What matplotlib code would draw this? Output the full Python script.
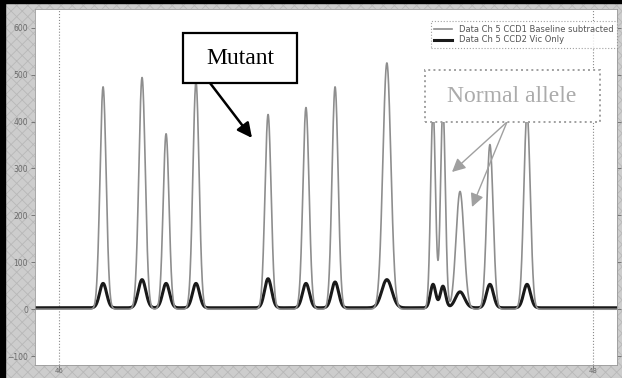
import numpy as np
import matplotlib.pyplot as plt
from matplotlib.patches import Rectangle

# peak table (x in scan units, heights in counts)
peak_pos = [46.165, 46.311, 46.401, 46.513, 46.783, 46.925, 47.034,
            47.228, 47.401, 47.438, 47.502, 47.614, 47.753]
ccd1_height = [474, 494, 374, 485, 415, 430, 474, 525, 428, 432, 251, 351, 419]
ccd1_sigma = [0.0115, 0.012, 0.011, 0.0115, 0.0115, 0.0115, 0.0115,
              0.015, 0.009, 0.009, 0.015, 0.012, 0.012]
ccd2_height = [52, 60, 52, 52, 62, 52, 55, 60, 50, 46, 34, 50, 50]
ccd2_sigma = [0.013, 0.014, 0.013, 0.013, 0.013, 0.013, 0.013,
              0.019, 0.010, 0.010, 0.017, 0.013, 0.013]
ccd2_offset = 3
x_ticks = [46, 48]
x_labels = ['46', '48']
y_ticks = [-100, 0, 100, 200, 300, 400, 500, 600]

x = np.linspace(45.91, 48.09, 3000)
ccd1 = np.zeros_like(x)
ccd2 = np.full_like(x, ccd2_offset, dtype=float)
for p, h, s in zip(peak_pos, ccd1_height, ccd1_sigma):
    ccd1 += h * np.exp(-0.5 * ((x - p) / s) ** 2)
for p, h, s in zip(peak_pos, ccd2_height, ccd2_sigma):
    ccd2 += h * np.exp(-0.5 * ((x - p) / s) ** 2)

W, H = 622, 378
plt.rcParams['hatch.linewidth'] = 0.6
fig = plt.figure(figsize=(W / 100, H / 100), dpi=100, facecolor='#cdcdcd')

def fp(px, py):
    return (px / W, 1 - py / H)

# stippled grey frame and dark left/top edges
fig.patches.append(Rectangle((-0.05, -0.05), 1.1, 1.1, transform=fig.transFigure,
                             facecolor='none', edgecolor='#b8b8b8',
                             hatch='xxx', lw=0, zorder=-5))
fig.patches.append(Rectangle((0, 0), 5 / W, 1, transform=fig.transFigure,
                             color='black', zorder=-4))
fig.patches.append(Rectangle((0, 1 - 3 / H), 1, 3 / H, transform=fig.transFigure,
                             color='black', zorder=-4))

ax = fig.add_axes([35 / W, 13 / H, 582 / W, 356 / H])
ax.set_facecolor('white')
ax.plot(x, ccd1, color='#8e8e8e', lw=1.2,
        label='Data Ch 5 CCD1 Baseline subtracted', zorder=3)
ax.plot(x, ccd2, color='#1a1a1a', lw=2.2,
        label='Data Ch 5 CCD2 Vic Only', zorder=2)

ax.set_xlim(45.91, 48.09)
ax.set_ylim(-119, 640)
ax.set_xticks(x_ticks)
ax.set_xticklabels(x_labels)
ax.set_yticks(y_ticks)
ax.tick_params(axis='both', labelsize=5.5, labelcolor='#6a6a6a', color='#6a6a6a',
               length=3, width=0.6, pad=2)
ax.tick_params(axis='x', length=2, pad=0.5, labelsize=5)
ax.tick_params(axis='y', right=True, direction='out')
ax.grid(axis='x', ls=':', color='#8a8a8a', lw=0.8)
for s in ax.spines.values():
    s.set_color('#9a9a9a')
    s.set_linewidth(0.6)

leg = ax.legend(loc='upper right', bbox_to_anchor=(1.0, 0.965), borderaxespad=0,
                fontsize=6, frameon=True, fancybox=False, handlelength=2.2,
                labelcolor='#555555', borderpad=0.4, labelspacing=0.2)
leg.get_frame().set_edgecolor('#8a8a8a')
leg.get_frame().set_linestyle(':')
leg.get_frame().set_linewidth(0.8)

# Mutant label
fig.patches.append(Rectangle(fp(183, 83), 114 / W, 50 / H, transform=fig.transFigure,
                             facecolor='white', edgecolor='black', lw=1.6, zorder=5))
fig.text(*fp(240, 58), 'Mutant', family='Liberation Serif', fontsize=17,
         ha='center', va='center', zorder=6)
ax.annotate('', xy=fp(252, 138), xytext=fp(210, 83),
            xycoords='figure fraction', textcoords='figure fraction',
            arrowprops=dict(arrowstyle='-|>', color='black', lw=1.8,
                            mutation_scale=22, shrinkA=0, shrinkB=0), zorder=6)

# Normal allele label
fig.patches.append(Rectangle(fp(425, 122), 175 / W, 52 / H, transform=fig.transFigure,
                             facecolor='white', edgecolor='#a0a0a0', lw=1.4, ls=':',
                             zorder=5))
fig.text(*fp(512, 96), 'Normal allele', family='Liberation Serif', fontsize=17,
         color='#ababab', ha='center', va='center', zorder=6)
for tip in [(452, 172), (472, 207)]:
    ax.annotate('', xy=fp(*tip), xytext=fp(507, 122),
                xycoords='figure fraction', textcoords='figure fraction',
                arrowprops=dict(arrowstyle='-|>', color='#a0a0a0', lw=1.0,
                                mutation_scale=20, shrinkA=0, shrinkB=0), zorder=6)

fig.savefig('out.png', dpi=100, facecolor=fig.get_facecolor())
